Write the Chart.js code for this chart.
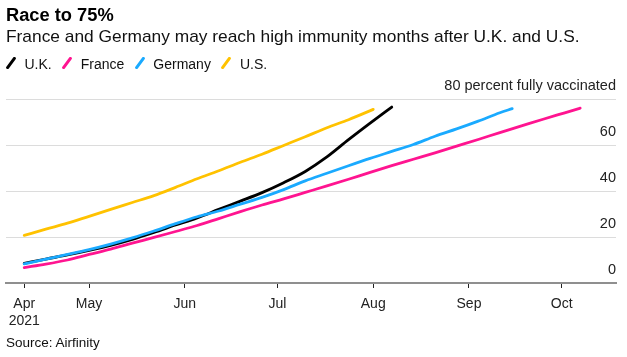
<!DOCTYPE html>
<html><head><meta charset="utf-8">
<script src="https://cdn.jsdelivr.net/npm/chart.js@4"></script>
<style>
html,body{margin:0;padding:0;background:#fff;}
body{width:627px;height:357px;position:relative;overflow:hidden;font-family:"Liberation Sans",Arial,sans-serif;color:#111;}
.t{position:absolute;left:6px;white-space:nowrap;line-height:1;}
#title{top:6px;font-size:18.3px;font-weight:bold;color:#000;}
#sub{top:27.6px;font-size:17.35px;}
#legend{position:absolute;left:6px;top:57px;display:flex;align-items:flex-start;font-size:14px;line-height:1;white-space:nowrap;}
#legend .it{display:flex;align-items:flex-start;margin-right:10.5px;}
#legend svg{margin-right:8.5px;margin-top:0px;}
#src{top:336px;font-size:13.5px;}
#wrap{position:absolute;left:0;top:0;width:627px;height:357px;}
</style></head>
<body>
<div id="wrap"><canvas id="c" width="627" height="357"></canvas></div>
<div class="t" id="title">Race to 75%</div>
<div class="t" id="sub">France and Germany may reach high immunity months after U.K. and U.S.</div>
<div id="legend"></div>
<div class="t" id="src">Source: Airfinity</div>
<script>
// Days counted from April 1, 2021 (Apr 1 = 0)
const tickDays = [9, 30, 61, 91, 122, 153, 183];
const tickLabels = [['Apr', '2021'], 'May', 'Jun', 'Jul', 'Aug', 'Sep', 'Oct'];
const yTicks = [0, 20, 40, 60, 80];
const yTickLabels = ['0', '20', '40', '60', '80 percent fully vaccinated'];

const seriesNames = ['U.K.', 'France', 'Germany', 'U.S.'];
const seriesColors = ['#000000', '#ff1490', '#1aaaff', '#ffc200'];

const ukDays = [9,16,23,30,37,44,51,58,65,72,79,86,93,100,107,114,121,128];
const ukValues = [8.5,10.4,12.2,14.2,16.4,19.0,22.0,25.2,28.3,32.0,35.6,39.3,43.6,48.5,54.8,62.3,69.5,76.5];

const frDays = [9,16,23,30,37,44,51,58,65,72,79,86,93,100,107,114,121,128,135,142,149,156,163,170,177,184,189];
const frValues = [6.7,8.2,10.0,12.4,14.7,17.3,19.8,22.4,25.0,28.0,31.0,33.9,36.6,39.4,42.2,45.1,48.1,51.0,53.8,56.6,59.5,62.4,65.4,68.3,71.2,74.0,76.0];

const deDays = [9,16,23,30,37,44,51,58,65,72,79,86,93,100,107,114,121,128,135,142,149,156,163,167];
const deValues = [8.3,10.4,12.4,14.5,16.9,19.6,22.6,25.8,28.8,31.3,34.3,37.2,40.6,44.4,47.7,51.0,54.2,57.2,60.2,63.8,67.0,70.4,74.0,75.8];

const usDays = [9,16,23,30,37,44,51,58,65,72,79,86,93,100,107,114,122];
const usValues = [20.7,23.4,26.0,29.0,32.0,35.0,38.0,41.6,45.3,48.8,52.5,56.0,59.8,63.6,67.5,71.0,75.5];

const xMin = 3.1, xMax = 200.6;

// legend
const lg = document.getElementById('legend');
seriesNames.forEach((n, i) => {
  const it = document.createElement('div');
  it.className = 'it';
  it.innerHTML = '<svg width="10" height="12" viewBox="0 0 10 12"><line x1="1.6" y1="10.6" x2="8.4" y2="1.4" stroke="' + seriesColors[i] + '" stroke-width="3" stroke-linecap="round"/></svg><span>' + n + '</span>';
  lg.appendChild(it);
});

const pts = (d, v) => d.map((x, i) => ({x: x, y: v[i]}));

Chart.defaults.font.family = '"Liberation Sans", Arial, sans-serif';
Chart.defaults.color = '#222';

const mk = (i, data, order) => ({
  label: seriesNames[i], data: data, borderColor: seriesColors[i], backgroundColor: seriesColors[i],
  borderWidth: 2.8, pointRadius: 0, cubicInterpolationMode: 'monotone', fill: false, order: order,
  borderCapStyle: 'round', borderJoinStyle: 'round'
});

new Chart(document.getElementById('c'), {
  type: 'line',
  data: {
    datasets: [
      mk(2, pts(deDays, deValues), 1),
      mk(0, pts(ukDays, ukValues), 2),
      mk(1, pts(frDays, frValues), 3),
      mk(3, pts(usDays, usValues), 4)
    ]
  },
  options: {
    responsive: false,
    animation: false,
    events: [],
    layout: { padding: { left: 6, right: 11, top: 99, bottom: 0 } },
    plugins: { legend: { display: false }, tooltip: { enabled: false } },
    scales: {
      x: {
        type: 'linear', min: xMin, max: xMax,
        afterBuildTicks: s => { s.ticks = tickDays.map(v => ({ value: v })); },
        afterFit: s => { s.height = 74; },
        grid: { display: true, drawOnChartArea: false, drawTicks: true, tickLength: 5, tickColor: '#222', tickWidth: 1 },
        border: { display: true, color: '#8f8f8f', width: 2 },
        ticks: {
          autoSkip: false, maxRotation: 0, padding: 7, color: '#222',
          font: { size: 14, lineHeight: 1.25 },
          callback: (v, i) => tickLabels[i]
        }
      },
      y: {
        position: 'right', min: 0, max: 80,
        afterBuildTicks: s => { s.ticks = yTicks.map(v => ({ value: v })); },
        grid: { color: '#dcdcdc', lineWidth: 1, drawTicks: false },
        border: { display: false },
        ticks: {
          mirror: true, padding: 0, labelOffset: -13.5, color: '#222',
          font: { size: 14.5 },
          callback: (v, i) => yTickLabels[i]
        }
      }
    }
  }
});
</script>
</body></html>
